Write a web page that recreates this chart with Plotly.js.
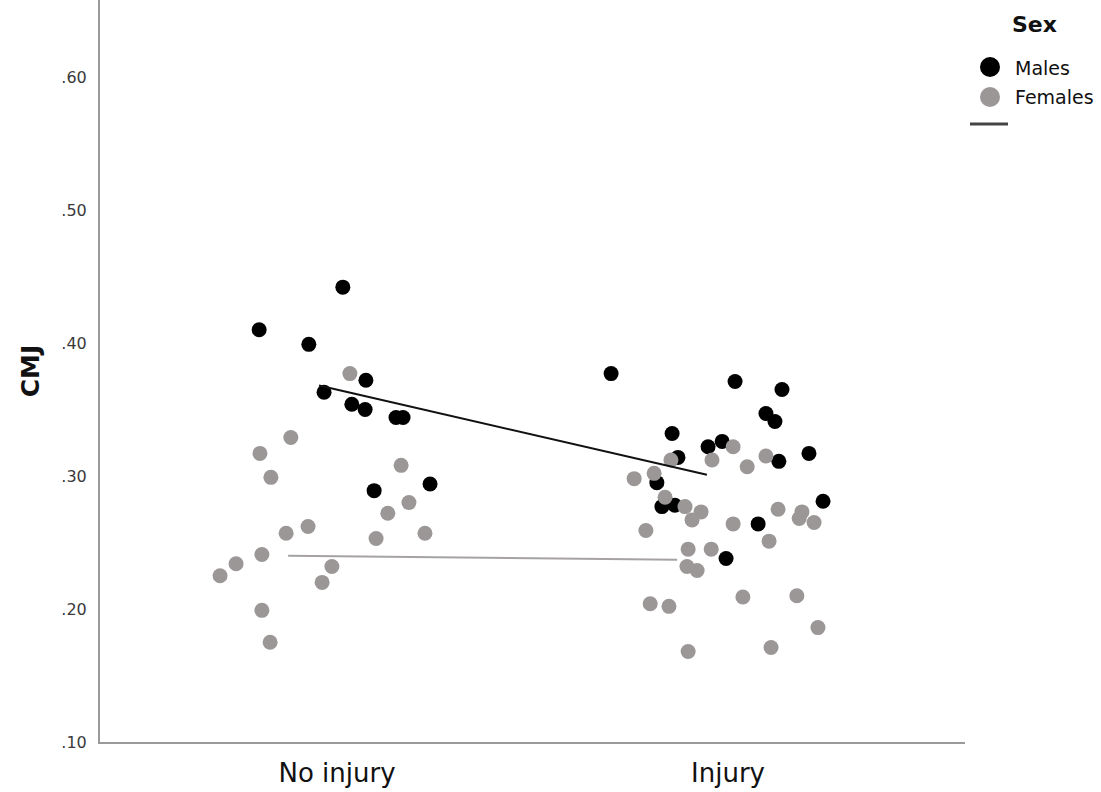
<!DOCTYPE html>
<html>
<head>
<meta charset="utf-8">
<script src="https://cdn.plot.ly/plotly-3.0.1.min.js"></script>
<style>html,body{margin:0;padding:0;background:#fff;}#chart{width:1101px;height:792px;}</style>
</head>
<body>
<div id="chart"></div>
<script>
// Categories (x positions 0 and 1, points are jittered around them)
const categories = ["No injury", "Injury"];
const categoryPositions = [0, 1];

// Males
const malesX = [0.015, -0.199, -0.072, 0.074, -0.033, 0.038, 0.072, 0.151, 0.169, 0.095, 0.238,
  0.701, 1.018, 1.138, 1.097, 1.120, 0.857, 0.949, 0.985, 0.872, 1.130, 1.207, 0.818, 0.831, 0.864, 1.243, 1.077, 0.995];
const malesY = [0.442, 0.410, 0.399, 0.372, 0.363, 0.354, 0.350, 0.344, 0.344, 0.289, 0.294,
  0.377, 0.371, 0.365, 0.347, 0.341, 0.332, 0.322, 0.326, 0.314, 0.311, 0.317, 0.295, 0.277, 0.278, 0.281, 0.264, 0.238];

// Females
const femalesX = [0.033, -0.118, -0.197, 0.164, -0.169, 0.184, 0.130, -0.074, -0.130, 0.100, 0.225, -0.192, -0.258, -0.299, -0.013, -0.038, -0.192, -0.171,
  1.013, 0.854, 0.959, 1.049, 1.097, 0.760, 0.811, 0.839, 0.890, 0.931, 0.908, 1.128, 1.189, 1.182, 1.220, 1.013, 0.790, 1.105, 0.898, 0.957, 0.895, 0.921, 0.801, 0.849, 1.038, 1.176, 1.230, 0.898, 1.110];
const femalesY = [0.377, 0.329, 0.317, 0.308, 0.299, 0.280, 0.272, 0.262, 0.257, 0.253, 0.257, 0.241, 0.234, 0.225, 0.232, 0.220, 0.199, 0.175,
  0.322, 0.312, 0.312, 0.307, 0.315, 0.298, 0.302, 0.284, 0.277, 0.273, 0.267, 0.275, 0.273, 0.268, 0.265, 0.264, 0.259, 0.251, 0.245, 0.245, 0.232, 0.229, 0.204, 0.202, 0.209, 0.210, 0.186, 0.168, 0.171];

// Fit lines (end points)
const malesFitX = [-0.046, 0.946];
const malesFitY = [0.368, 0.301];
const femalesFitX = [-0.125, 0.870];
const femalesFitY = [0.240, 0.237];

// Y tick labels
const yTickVals = [0.10, 0.20, 0.30, 0.40, 0.50, 0.60];
const yTickText = [".10", ".20", ".30", ".40", ".50", ".60"];

const BLACK = "#000000";
const GRAY = "#9b9797";
const FONT = "DejaVu Sans, Verdana, sans-serif";

const traces = [
  {x: malesX, y: malesY, type: "scatter", mode: "markers", name: "Males",
   marker: {color: BLACK, size: 15, line: {width: 0}}, showlegend: false, hoverinfo: "skip"},
  {x: femalesX, y: femalesY, type: "scatter", mode: "markers", name: "Females",
   marker: {color: GRAY, size: 15, line: {width: 0}}, showlegend: false, hoverinfo: "skip"},
  {x: malesFitX, y: malesFitY, type: "scatter", mode: "lines", name: "Males fit",
   line: {color: "#111111", width: 2}, showlegend: false, hoverinfo: "skip"},
  {x: femalesFitX, y: femalesFitY, type: "scatter", mode: "lines", name: "Females fit",
   line: {color: "#a6a2a2", width: 2}, showlegend: false, hoverinfo: "skip"}
];

const LX = 990, LW = 865;
const layout = {
  width: 1101, height: 792,
  margin: {l: 100, r: 136, t: 0, b: 50},
  paper_bgcolor: "#ffffff", plot_bgcolor: "#ffffff",
  font: {family: FONT, color: "#333333"},
  showlegend: false,
  xaxis: {
    range: [-0.606, 1.606], tickvals: categoryPositions, ticktext: categories,
    showgrid: false, zeroline: false, showline: true, linecolor: "#9a9a9a", linewidth: 2,
    ticks: "", ticklabelstandoff: 7, tickfont: {family: FONT, size: 26, color: "#111111"},
    fixedrange: true
  },
  yaxis: {
    range: [0.10, 0.6579], tickvals: yTickVals, ticktext: yTickText,
    showgrid: false, zeroline: false, showline: true, linecolor: "#9a9a9a", linewidth: 2,
    ticks: "", ticklabelstandoff: 8, tickfont: {family: FONT, size: 16, color: "#3a3a3a"},
    title: {text: "<b>CMJ</b>", font: {family: FONT, size: 25, color: "#111111"}, standoff: 15},
    fixedrange: true
  },
  shapes: [
    {type: "circle", xref: "paper", yref: "paper", xsizemode: "pixel", ysizemode: "pixel",
     xanchor: (LX - 100) / LW, yanchor: 1 - 67/742, x0: -10, x1: 10, y0: -10, y1: 10,
     fillcolor: BLACK, line: {width: 0}},
    {type: "circle", xref: "paper", yref: "paper", xsizemode: "pixel", ysizemode: "pixel",
     xanchor: (LX - 100) / LW, yanchor: 1 - 97/742, x0: -10, x1: 10, y0: -10, y1: 10,
     fillcolor: GRAY, line: {width: 0}},
    {type: "line", xref: "paper", yref: "paper",
     x0: (970 - 100) / LW, x1: (1008 - 100) / LW, y0: 1 - 124/742, y1: 1 - 124/742,
     line: {color: "#444444", width: 3}}
  ],
  annotations: [
    {text: "<b>Sex</b>", xref: "paper", yref: "paper", x: (1010 - 100) / LW, y: 1 - 25/742,
     xanchor: "left", yanchor: "middle", showarrow: false, font: {family: FONT, size: 22, color: "#111111"}},
    {text: "Males", xref: "paper", yref: "paper", x: (1013 - 100) / LW, y: 1 - 68/742,
     xanchor: "left", yanchor: "middle", showarrow: false, font: {family: FONT, size: 19, color: "#111111"}},
    {text: "Females", xref: "paper", yref: "paper", x: (1013 - 100) / LW, y: 1 - 97/742,
     xanchor: "left", yanchor: "middle", showarrow: false, font: {family: FONT, size: 19, color: "#111111"}}
  ]
};

Plotly.newPlot("chart", traces, layout, {displayModeBar: false, staticPlot: true});
</script>
</body>
</html>
